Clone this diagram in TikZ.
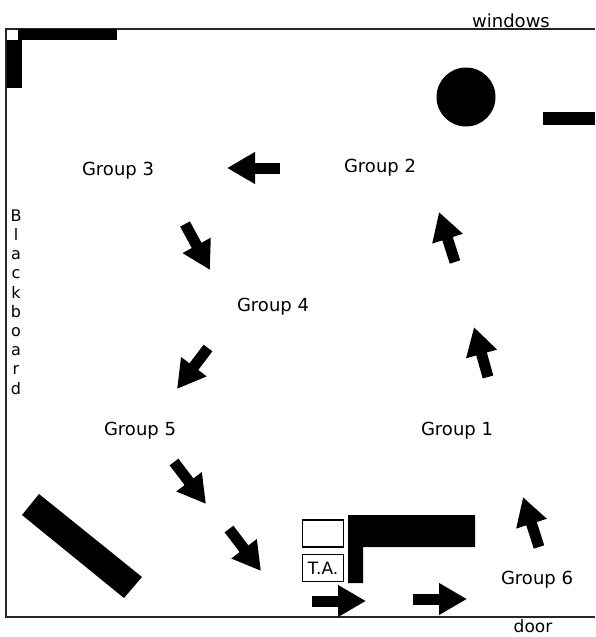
\documentclass[tikz,border=0pt]{standalone}
\usepackage{fontspec}
\setmainfont{DejaVu Sans}
\usetikzlibrary{arrows.meta}

\begin{document}
\begin{tikzpicture}[x=1pt,y=-1pt,
	group node/.style={font=\fontsize{18}{20}\selectfont,inner sep=0pt},
	desk/.style={fill=black},
	desk box/.style={draw,line width=1.5pt,minimum width=41pt,minimum height=27pt,inner sep=0pt,font=\fontsize{17}{19}\selectfont},
	fat arrow/.style={line width=11pt,-{Triangle[length=28pt,width=30pt]}}]

	\useasboundingbox (0,0) rectangle (595,637);

	% room
	\coordinate (topright) at (595,29);
	\coordinate (topleft) at (6,29);
	\coordinate (bottomleft) at (6,617);
	\coordinate (bottomright) at (595,617);
	\draw[line width=1.3pt,black!85] (topright) -- (topleft) -- (bottomleft) -- (bottomright);

	% furniture
	\fill[desk] (18,29) rectangle (117,40);
	\fill[desk] (7,40) rectangle (22,88);
	\fill[desk] (543,112) rectangle (595,125);
	\fill[desk] (466,97) circle (29.5);
	\fill[desk] (39,494) -- (22,515) -- (124,598) -- (142,577) -- cycle;
	\fill[desk] (348,515) -- (475,515) -- (475,547) -- (363,547) -- (363,583) -- (348,583) -- cycle;

	\node[desk box] (emptybox) at (323,533.5) {};
	\node[desk box] (tabox) at (323,568) {T.A.};

	% labels
	\node[group node] (group1) at (457,431) {Group 1};
	\node[group node] (group2) at (380,168) {Group 2};
	\node[group node] (group3) at (118,171) {Group 3};
	\node[group node] (group4) at (273,307) {Group 4};
	\node[group node] (group5) at (140,431) {Group 5};
	\node[group node] (group6) at (537,580) {Group 6};
	\node[group node] (windows) at (511,21) {windows};
	\node[group node,font=\fontsize{17}{19}\selectfont] (door) at (533,626.5) {door};
	\node[group node,align=center,font=\fontsize{16}{19.2}\selectfont] (blackboard) at (16,302) {B\\l\\a\\c\\k\\b\\o\\a\\r\\d};

	% arrow ends
	\coordinate (a1) at (488,377);
	\coordinate (a2) at (474,327);
	\coordinate (b1) at (455,262);
	\coordinate (b2) at (439,212);
	\coordinate (c1) at (280,168);
	\coordinate (c2) at (227,168);
	\coordinate (d1) at (185,224);
	\coordinate (d2) at (210,270);
	\coordinate (e1) at (208,348);
	\coordinate (e2) at (177,389);
	\coordinate (f1) at (174,462);
	\coordinate (f2) at (206,504);
	\coordinate (g1) at (229,529);
	\coordinate (g2) at (261,571);
	\coordinate (h1) at (312,601);
	\coordinate (h2) at (366,601);
	\coordinate (i1) at (413,599);
	\coordinate (i2) at (467,599);
	\coordinate (j1) at (539,547);
	\coordinate (j2) at (523,497);

	\path[fat arrow]
	(a1) edge (a2)
	(b1) edge (b2)
	(c1) edge (c2)
	(d1) edge (d2)
	(e1) edge (e2)
	(f1) edge (f2)
	(g1) edge (g2)
	(h1) edge (h2)
	(i1) edge (i2)
	(j1) edge (j2);
\end{tikzpicture}
\end{document}
